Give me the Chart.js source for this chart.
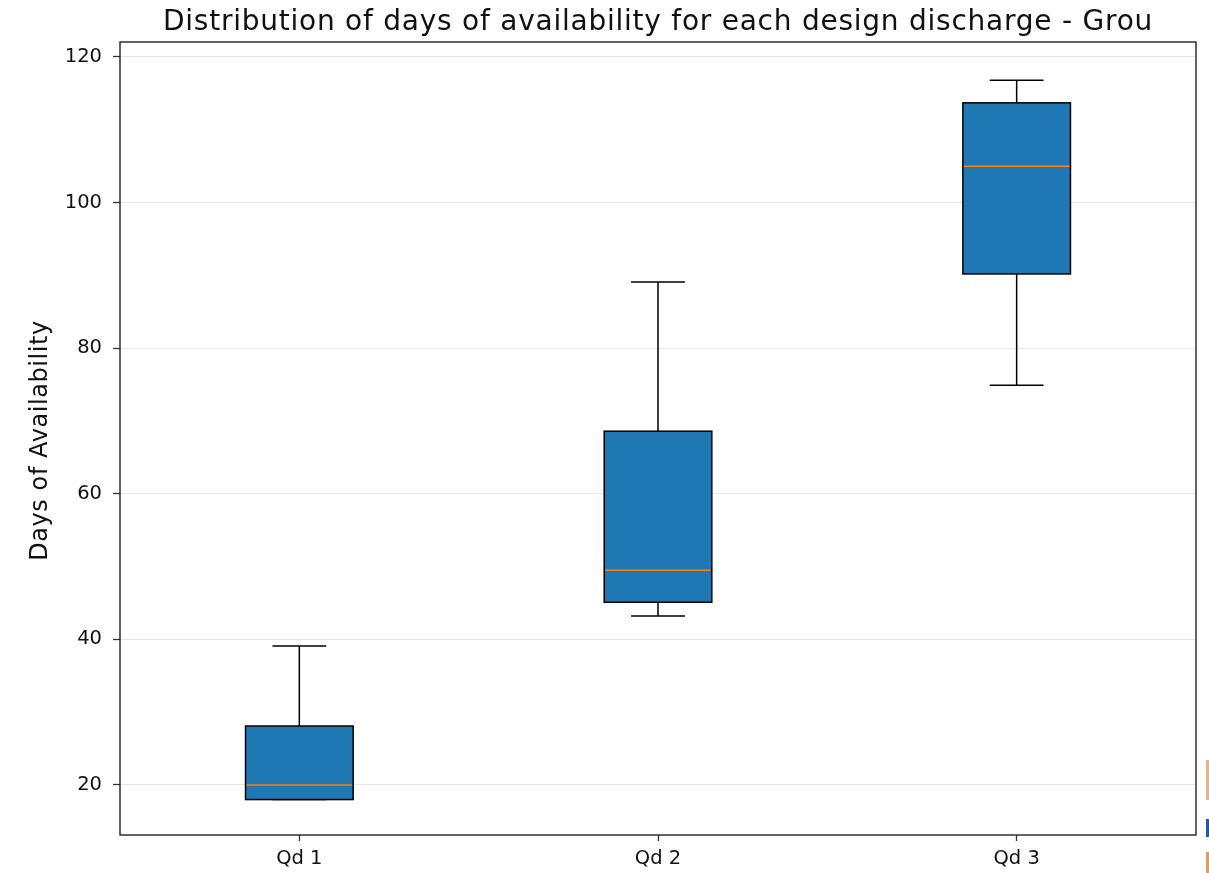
<!DOCTYPE html>
<html><head><meta charset="utf-8">
<script src="https://cdn.jsdelivr.net/npm/chart.js@4.4.1/dist/chart.umd.min.js"></script>
<style>
html,body{margin:0;padding:0;background:#fff;}
#wrap{position:relative;width:1209px;height:873px;}
.m{position:absolute;left:1206px;width:3px;}
</style>
</head><body>
<div id="wrap">
<canvas id="c" width="1209" height="873"></canvas>
<div class="m" style="top:760px;height:40px;background:#e2b28a"></div>
<div class="m" style="top:819px;height:18px;background:#1f5aa6"></div>
<div class="m" style="top:852px;height:21px;background:#e59a62"></div>
</div>
<script>
const categories = ['Qd 1', 'Qd 2', 'Qd 3'];
const whiskerLow  = [18.0, 43.2, 74.9];
const q1          = [18.0, 45.1, 90.2];
const median      = [20.0, 49.5, 105.0];
const q3          = [28.1, 68.6, 113.7];
const whiskerHigh = [39.1, 89.1, 116.8];
const yTicks = [20, 40, 60, 80, 100, 120];
const titleText = 'Distribution of days of availability for each design discharge - Grou';
const yLabel = 'Days of Availability';

const FONT = "'DejaVu Sans', sans-serif";

function fitText(ctx, text, targetWidth) {
  ctx.letterSpacing = '0px';
  const w = ctx.measureText(text).width;
  const sp = (targetWidth - w) / Math.max(1, text.length - 1);
  ctx.letterSpacing = sp.toFixed(2) + 'px';
}

const boxPlugin = {
  id: 'boxParts',
  beforeDatasetsDraw(chart) {
    const ctx = chart.ctx, ys = chart.scales.y;
    const meta = chart.getDatasetMeta(0);
    ctx.save();
    ctx.strokeStyle = '#000';
    ctx.lineWidth = 1.5;
    categories.forEach((c, i) => {
      const bar = meta.data[i];
      const x = bar.x, w = bar.width;
      ctx.beginPath();
      ctx.moveTo(x, ys.getPixelForValue(q3[i]));
      ctx.lineTo(x, ys.getPixelForValue(whiskerHigh[i]));
      ctx.moveTo(x, ys.getPixelForValue(q1[i]));
      ctx.lineTo(x, ys.getPixelForValue(whiskerLow[i]));
      ctx.moveTo(x - w / 4, ys.getPixelForValue(whiskerHigh[i]));
      ctx.lineTo(x + w / 4, ys.getPixelForValue(whiskerHigh[i]));
      ctx.moveTo(x - w / 4, ys.getPixelForValue(whiskerLow[i]));
      ctx.lineTo(x + w / 4, ys.getPixelForValue(whiskerLow[i]));
      ctx.stroke();
    });
    ctx.restore();
  },
  afterDatasetsDraw(chart) {
    const ctx = chart.ctx, ys = chart.scales.y;
    const meta = chart.getDatasetMeta(0);
    ctx.save();
    categories.forEach((c, i) => {
      const bar = meta.data[i];
      const x = bar.x, w = bar.width;
      const yTop = ys.getPixelForValue(q3[i]);
      const yBot = ys.getPixelForValue(q1[i]);
      ctx.strokeStyle = '#000';
      ctx.lineWidth = 1.5;
      ctx.strokeRect(x - w / 2, yTop, w, yBot - yTop);
      const y = ys.getPixelForValue(median[i]);
      ctx.strokeStyle = '#ff7f0e';
      ctx.beginPath();
      ctx.moveTo(x - w / 2 + 1, y);
      ctx.lineTo(x + w / 2 - 1, y);
      ctx.stroke();
    });
    const a = chart.chartArea;
    ctx.strokeStyle = '#222';
    ctx.lineWidth = 1.4;
    ctx.strokeRect(a.left, a.top, a.right - a.left, a.bottom - a.top);

    ctx.fillStyle = '#111';
    ctx.font = "28px " + FONT;
    ctx.textAlign = 'center';
    ctx.textBaseline = 'alphabetic';
    fitText(ctx, titleText, 989);
    ctx.fillText(titleText, (a.left + a.right) / 2, 30);

    ctx.font = "24px " + FONT;
    fitText(ctx, yLabel, 240);
    ctx.translate(47, (a.top + a.bottom) / 2 + 2);
    ctx.rotate(-Math.PI / 2);
    ctx.fillText(yLabel, 0, 0);
    ctx.restore();
  }
};

new Chart(document.getElementById('c'), {
  type: 'bar',
  data: {
    labels: categories,
    datasets: [{
      data: categories.map((c, i) => [q1[i], q3[i]]),
      backgroundColor: '#1f77b4',
      borderWidth: 0,
      barPercentage: 0.3,
      categoryPercentage: 1.0
    }]
  },
  options: {
    responsive: false,
    animation: false,
    layout: { padding: { top: 42, right: 13, left: 0, bottom: 0 } },
    plugins: { legend: { display: false }, tooltip: { enabled: false }, title: { display: false } },
    scales: {
      x: {
        offset: true,
        grid: { display: true, drawOnChartArea: false, offset: false, tickLength: 6, tickColor: '#333', tickWidth: 1.3 },
        border: { display: false },
        ticks: { color: '#111', font: { family: FONT, size: 19.5 }, padding: 6 },
        afterFit(s) { s.height = 38; }
      },
      y: {
        min: 13.13, max: 122.06,
        grid: { color: '#e6e6e6', lineWidth: 1, tickLength: 7, tickColor: '#333', tickWidth: 1.3 },
        border: { display: false },
        ticks: { color: '#111', font: { family: FONT, size: 19.5 }, padding: 11 },
        afterBuildTicks(s) { s.ticks = yTicks.map(v => ({ value: v })); },
        afterFit(s) { s.width = 120; }
      }
    }
  },
  plugins: [boxPlugin]
});
</script>
</body></html>
